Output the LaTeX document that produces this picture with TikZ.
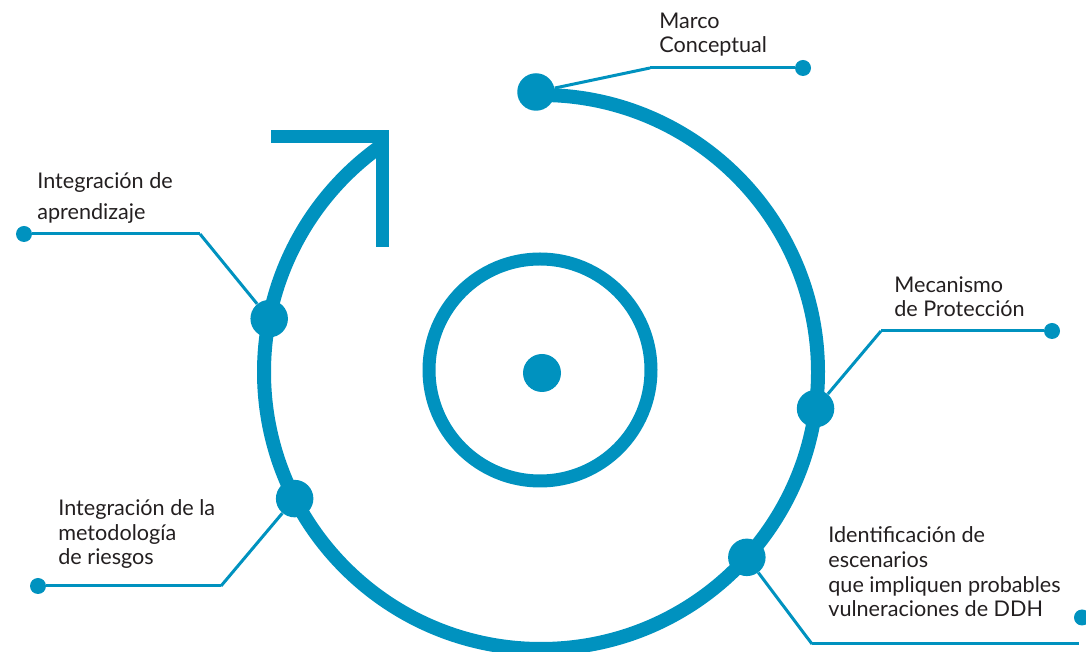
\documentclass[tikz,border=0pt]{standalone}
\usepackage{fontspec}
\setmainfont{Lato}
\usetikzlibrary{calc}

\definecolor{ciclo}{HTML}{0092BF}
\definecolor{texto}{HTML}{231F20}

\begin{document}
\begin{tikzpicture}[x=0.02cm,y=0.02cm,
  punto/.style={circle, fill=ciclo, inner sep=0pt, minimum size=0.75cm},
  puntito/.style={circle, fill=ciclo, inner sep=0pt, minimum size=0.32cm},
  guia/.style={draw=ciclo, line width=0.06cm},
  etiqueta/.style={anchor=base west, inner sep=0pt, align=left, text=texto,
                   font=\fontsize{12.3}{14.2}\selectfont}]

  \useasboundingbox (0,0) rectangle (1086,652);
  \coordinate (C) at (541,280);

  % big cycle and arrow head
  \draw[ciclo, line width=0.28cm] ($(C)+(91:277)$)
    arc[start angle=91, end angle=-235.5, radius=277];
  \draw[ciclo, line width=0.26cm, line join=miter] (271,515.5) -- (382,515.5) -- (382,405);

  % inner ring
  \draw[ciclo, line width=0.26cm] (540,282) circle[radius=111];
  \node[punto,
        minimum size = 0.76cm
        ] (centro) at (542,279) {};

  % dots on the cycle
  \node[punto] (marco) at (536,560) {};
  \node[punto] (mecan) at ($(C)+(-7.6:277)$) {};
  \node[punto] (ident) at ($(C)+(-42:277)$) {};
  \node[punto] (riesgo) at ($(C)+(207.2:277)$) {};
  \node[punto] (aprend) at ($(C)+(168.9:277)$) {};

  % small end dots
  \node[puntito] (fmarco) at (803,584) {};
  \node[puntito] (fmecan) at (1052,321) {};
  \node[puntito] (fident) at (1082,34.5) {};
  \node[puntito] (friesgo) at (38,66) {};
  \node[puntito] (faprend) at (24,418) {};
  \coordinate (lident) at (1079,8);

  % texts (anchored on the last line)
  \node[etiqueta] (tmarco) at (659,599) {Marco\\Conceptual};
  \node[etiqueta] (tmecan) at (894,335) {Mecanismo\\de Protección};
  \node[etiqueta] (tident) at (828,35)
    {Identificación de\\escenarios\\que impliquen probables\\vulneraciones de DDH};
  \node[etiqueta] (triesgo) at (58,87) {Integración de la\\metodología\\de riesgos};
  \node[etiqueta,
        font = \fontsize{12.3}{18.1}\selectfont
        ] (taprend) at (37,432) {Integración de\\aprendizaje};

  \path[guia]
  (marco) edge [] (650,584)
  (650,584) edge [] (fmarco)
  (mecan) edge [] (881,321)
  (881,321) edge [] (fmecan)
  (ident) edge [] (812,8)
  (812,8) edge [] (lident)
  (riesgo) edge [] (221,66)
  (221,66) edge [] (friesgo)
  (aprend) edge [] (200,418)
  (200,418) edge [] (faprend);

\end{tikzpicture}
\end{document}
